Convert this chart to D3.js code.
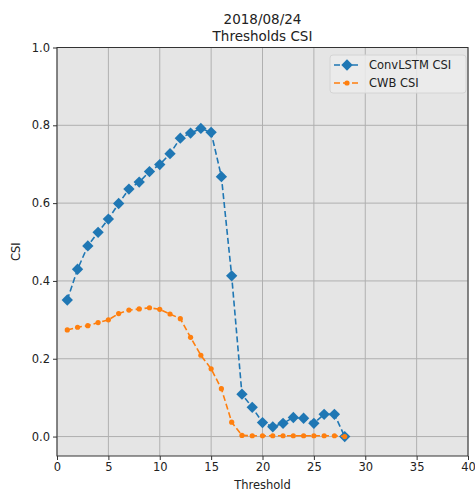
<!DOCTYPE html>
<html>
<head>
<meta charset="utf-8">
<script src="https://cdn.jsdelivr.net/npm/d3@7"></script>
<style>
	body { margin: 0; background: #fff; }
	svg { display: block; font-family: 'DejaVu Sans', sans-serif; }
</style>
</head>
<body>
<div data-chart></div>
<script>
const thresholds = d3.range(1, 29)

const convLstmCsi = [
	0.351, 0.430, 0.490, 0.525, 0.559, 0.599, 0.636, 0.654, 0.681, 0.699,
	0.727, 0.767, 0.780, 0.792, 0.782, 0.668, 0.413, 0.109, 0.075, 0.036,
	0.025, 0.034, 0.049, 0.047, 0.034, 0.057, 0.057, 0.0
]

const cwbCsi = [
	0.274, 0.281, 0.285, 0.293, 0.300, 0.316, 0.325, 0.328, 0.331, 0.327,
	0.315, 0.303, 0.255, 0.209, 0.174, 0.123, 0.037, 0.003, 0.002, 0.002,
	0.002, 0.002, 0.002, 0.002, 0.002, 0.002, 0.002, 0.0
]

const xTicks = [0, 5, 10, 15, 20, 25, 30, 35, 40]
const yTicks = [0.0, 0.2, 0.4, 0.6, 0.8, 1.0]

const titleLines = ['2018/08/24', 'Thresholds CSI']

const dimensions = {
	width: 475,
	height: 491,
	left: 57,
	right: 468,
	top: 47.5,
	bottom: 456
}

const series = [
	{ name: 'ConvLSTM CSI', values: convLstmCsi, color: '#1f77b4', marker: 'diamond' },
	{ name: 'CWB CSI', values: cwbCsi, color: '#ff7f0e', marker: 'dot' }
]

const svg = d3.select('[data-chart]')
	.append('svg')
	.attr('width', dimensions.width)
	.attr('height', dimensions.height)

const xScale = d3.scaleLinear()
	.domain([0, 40])
	.range([dimensions.left, dimensions.right])

const yScale = d3.scaleLinear()
	.domain([-0.05, 1.0])
	.range([dimensions.bottom, dimensions.top])

/* Background */
svg.append('rect')
	.attr('x', dimensions.left)
	.attr('y', dimensions.top)
	.attr('width', dimensions.right - dimensions.left)
	.attr('height', dimensions.bottom - dimensions.top)
	.attr('fill', '#e5e5e5')

/* Grid */
const grid = svg.append('g')
grid.selectAll('.vgrid')
	.data(xTicks)
	.join('line')
	.attr('x1', d => xScale(d))
	.attr('x2', d => xScale(d))
	.attr('y1', dimensions.top)
	.attr('y2', dimensions.bottom)
	.attr('stroke', '#b0b0b0')
	.attr('stroke-width', 1)
grid.selectAll('.hgrid')
	.data(yTicks)
	.join('line')
	.attr('x1', dimensions.left)
	.attr('x2', dimensions.right)
	.attr('y1', d => yScale(d))
	.attr('y2', d => yScale(d))
	.attr('stroke', '#b0b0b0')
	.attr('stroke-width', 1)

/* Axes */
const xAxis = svg.append('g')
	.attr('transform', `translate(0,${dimensions.bottom})`)
	.call(d3.axisBottom(xScale).tickValues(xTicks).tickSize(4).tickPadding(3).tickFormat(d3.format('d')))

const yAxis = svg.append('g')
	.attr('transform', `translate(${dimensions.left},0)`)
	.call(d3.axisLeft(yScale).tickValues(yTicks).tickSize(4).tickPadding(3).tickFormat(d3.format('.1f')))

;[xAxis, yAxis].forEach(axis => {
	axis.select('.domain').remove()
	axis.selectAll('text')
		.attr('font-size', 11.5)
		.attr('fill', '#222')
		.attr('font-family', 'DejaVu Sans, sans-serif')
	axis.selectAll('line').attr('stroke', '#333')
})

/* Frame */
svg.append('rect')
	.attr('x', dimensions.left)
	.attr('y', dimensions.top)
	.attr('width', dimensions.right - dimensions.left)
	.attr('height', dimensions.bottom - dimensions.top)
	.attr('fill', 'none')
	.attr('stroke', '#333')
	.attr('stroke-width', 1)

/* Lines and markers */
const lineGenerator = d3.line()
	.x((d, i) => xScale(thresholds[i]))
	.y(d => yScale(d))

const diamond = d3.symbol().type(d3.symbolSquare).size(64)

series.forEach(s => {
	svg.append('path')
		.datum(s.values)
		.attr('d', lineGenerator)
		.attr('fill', 'none')
		.attr('stroke', s.color)
		.attr('stroke-width', 1.6)
		.attr('stroke-dasharray', '6,3')

	const marks = svg.append('g')
	if (s.marker === 'diamond') {
		marks.selectAll('path')
			.data(s.values)
			.join('path')
			.attr('d', diamond)
			.attr('transform', (d, i) => `translate(${xScale(thresholds[i])},${yScale(d)}) rotate(45)`)
			.attr('fill', s.color)
	} else {
		marks.selectAll('circle')
			.data(s.values)
			.join('circle')
			.attr('cx', (d, i) => xScale(thresholds[i]))
			.attr('cy', d => yScale(d))
			.attr('r', 2.6)
			.attr('fill', s.color)
	}
})

/* Legend */
const legend = svg.append('g').attr('transform', 'translate(330,55)')
legend.append('rect')
	.attr('width', 136)
	.attr('height', 38)
	.attr('rx', 3)
	.attr('fill', '#ececec')
	.attr('fill-opacity', 0.85)
	.attr('stroke', '#d4d4d4')

series.forEach((s, i) => {
	const y = 10 + i * 18
	legend.append('line')
		.attr('x1', 4)
		.attr('x2', 30)
		.attr('y1', y)
		.attr('y2', y)
		.attr('stroke', s.color)
		.attr('stroke-width', 1.6)
		.attr('stroke-dasharray', '6,3')
	if (s.marker === 'diamond') {
		legend.append('path')
			.attr('d', diamond)
			.attr('transform', `translate(17,${y}) rotate(45)`)
			.attr('fill', s.color)
	} else {
		legend.append('circle')
			.attr('cx', 17)
			.attr('cy', y)
			.attr('r', 2.6)
			.attr('fill', s.color)
	}
	legend.append('text')
		.attr('x', 39)
		.attr('y', y)
		.attr('dy', '0.35em')
		.attr('font-size', 11.5)
		.attr('fill', '#222')
		.text(s.name)
})

/* Title and labels */
svg.append('g')
	.selectAll('text')
	.data(titleLines)
	.join('text')
	.attr('x', (dimensions.left + dimensions.right) / 2)
	.attr('y', (d, i) => 24 + i * 17)
	.attr('text-anchor', 'middle')
	.attr('font-size', 13.5)
	.attr('fill', '#222')
	.text(d => d)

svg.append('text')
	.attr('x', (dimensions.left + dimensions.right) / 2)
	.attr('y', 489)
	.attr('text-anchor', 'middle')
	.attr('font-size', 11.5)
	.attr('fill', '#222')
	.text('Threshold')

svg.append('text')
	.attr('transform', `translate(20,${(dimensions.top + dimensions.bottom) / 2}) rotate(-90)`)
	.attr('text-anchor', 'middle')
	.attr('font-size', 11.5)
	.attr('fill', '#222')
	.text('CSI')
</script>
</body>
</html>
